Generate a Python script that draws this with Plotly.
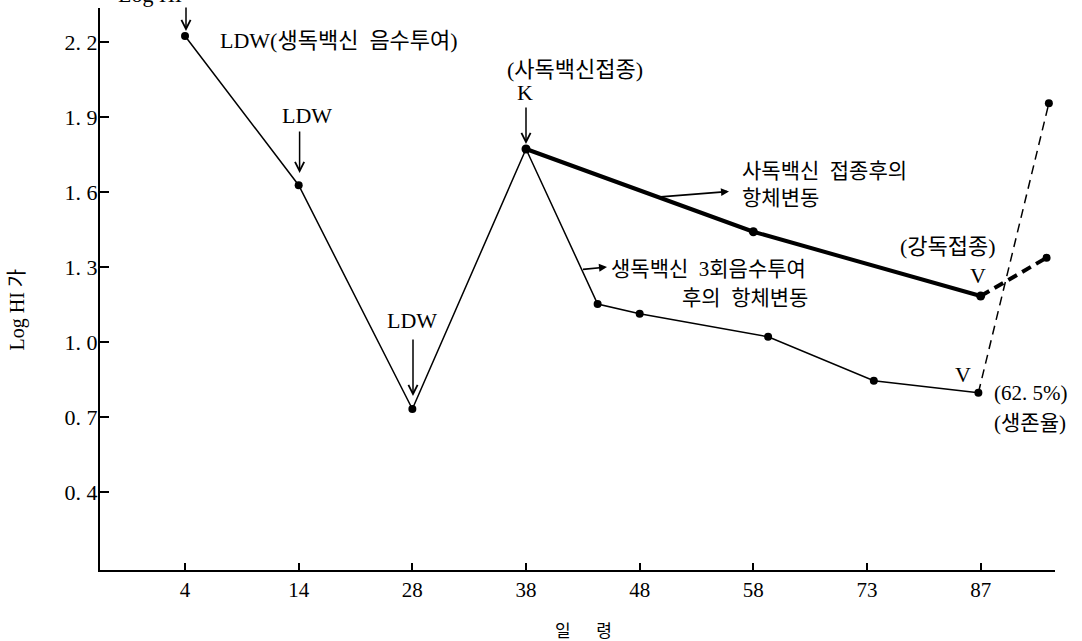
import plotly.graph_objects as go

# ---------------- data ----------------
day_labels = ["4", "14", "28", "38", "48", "58", "73", "87"]   # evenly spaced age (days) ticks
day_pos = [0, 1, 2, 3, 4, 5, 6, 7]

y_tick_vals = [0.4, 0.7, 1.0, 1.3, 1.6, 1.9, 2.2]
y_tick_text = ["0. 4", "0. 7", "1. 0", "1. 3", "1. 6", "1. 9", "2. 2"]

# live vaccine (drinking water) series
live_x = [0, 1, 2, 3, 3.63, 4.0, 5.13, 6.06, 6.98]
live_y = [2.225, 1.628, 0.733, 1.773, 1.153, 1.114, 1.022, 0.846, 0.798]

# killed vaccine series (thick)
killed_x = [3, 5, 7.0]
killed_y = [1.773, 1.442, 1.185]

# after virulent challenge (dashed)
live_ch_x = [6.98, 7.60]
live_ch_y = [0.798, 1.956]
killed_ch_x = [7.0, 7.58]
killed_ch_y = [1.185, 1.338]

# ---------------- layout geometry ----------------
W, H = 1082, 641
L, R, T, B = 100, 27, 8, 71
X_RANGE = [-0.748, 7.654]
Y_RANGE = [0.089, 2.337]
PW, PH = W - L - R, H - T - B

SERIF = "Liberation Serif, 'Noto Sans CJK KR', serif"


def P(px, py):
    """pixel position -> paper coordinates"""
    return (px - L) / PW, (H - B - py) / PH


fig = go.Figure()

fig.add_trace(go.Scatter(x=live_x, y=live_y, mode="lines+markers",
                         line=dict(color="black", width=1.5),
                         marker=dict(color="black", size=8),
                         showlegend=False, cliponaxis=False))
fig.add_trace(go.Scatter(x=killed_x, y=killed_y, mode="lines+markers",
                         line=dict(color="black", width=4),
                         marker=dict(color="black", size=9),
                         showlegend=False, cliponaxis=False))
fig.add_trace(go.Scatter(x=live_ch_x, y=live_ch_y, mode="lines",
                         line=dict(color="black", width=1.5, dash="9px,6px"),
                         showlegend=False))
fig.add_trace(go.Scatter(x=killed_ch_x, y=killed_ch_y, mode="lines",
                         line=dict(color="black", width=4, dash="10px,6px"),
                         showlegend=False))
fig.add_trace(go.Scatter(x=[live_ch_x[-1], killed_ch_x[-1]],
                         y=[live_ch_y[-1], killed_ch_y[-1]], mode="markers",
                         marker=dict(color="black", size=8),
                         showlegend=False, cliponaxis=False))

annotations = []


def text(px, py, s, size=22, xanchor="center", align="left"):
    x, y = P(px, py)
    annotations.append(dict(x=x, y=y, xref="paper", yref="paper", text=s,
                            showarrow=False, xanchor=xanchor, yanchor="middle", align=align,
                            font=dict(family=SERIF, size=size, color="black")))


def arrow(hx, hy, tx, ty, head=5, size=1.2, width=1.5):
    x, y = P(hx, hy)
    annotations.append(dict(x=x, y=y, xref="paper", yref="paper", text="",
                            showarrow=True, ax=tx - hx, ay=ty - hy,
                            axref="pixel", ayref="pixel",
                            arrowhead=head, arrowsize=size, arrowwidth=width,
                            arrowcolor="black", standoff=0, startstandoff=0))


# texts
x0, y0 = P(150, 9)
annotations.append(dict(x=x0, y=y0, xref="paper", yref="paper", text="Log HI",
                        showarrow=False, xanchor="center", yanchor="bottom",
                        font=dict(family=SERIF, size=22, color="black")))
text(218, 41, "LDW(생독백신\u00a0\u00a0음수투여)", xanchor="left")
text(306.5, 115, "LDW")
text(411.5, 320, "LDW")
text(575, 69, "(사독백신접종)")
text(525, 92.5, "K")
text(740, 184.5, "사독백신\u00a0\u00a0접종후의<br>항체변동", size=21, xanchor="left")
text(948, 246.7, "(강독접종)")
text(978, 275, "V")
text(609, 268.5, "생독백신\u00a0\u00a03회음수투여", size=21, xanchor="left")
text(680, 298, "후의\u00a0\u00a0항체변동", size=21, xanchor="left")
text(962.6, 374, "V")
text(992, 393, "(62. 5%)", size=21, xanchor="left")
text(992, 423, "(생존율)", size=21, xanchor="left")
text(583, 631, "일\u00a0\u00a0\u00a0\u00a0\u00a0\u00a0령", size=17)

# rotated y title
xt, yt = P(17.5, 310)
annotations.append(dict(x=xt, y=yt, xref="paper", yref="paper", text="Log HI 가",
                        showarrow=False, textangle=-90, xanchor="center", yanchor="middle",
                        font=dict(family=SERIF, size=20, color="black")))

# arrows
arrow(186, 31, 186, 6)
arrow(299.6, 173, 299.6, 130)
arrow(413, 396, 413, 338)
arrow(526, 144, 526, 106)
arrow(729, 191.5, 659, 197, head=2, size=1, width=1.6)
arrow(607, 267, 581.5, 269.5, head=2, size=1, width=1.6)

fig.update_layout(
    width=W, height=H,
    margin=dict(l=L, r=R, t=T, b=B, pad=0),
    paper_bgcolor="white", plot_bgcolor="white",
    showlegend=False,
    annotations=annotations,
    xaxis=dict(range=X_RANGE, tickvals=day_pos, ticktext=day_labels, automargin=False,
               showgrid=False, zeroline=False, showline=True, linecolor="black",
               linewidth=2, ticks="inside", ticklen=7, tickwidth=1.5, tickcolor="black",
               tickfont=dict(family=SERIF, size=21, color="black")),
    yaxis=dict(range=Y_RANGE, tickvals=y_tick_vals, ticktext=y_tick_text, automargin=False,
               showgrid=False, zeroline=False, showline=True, linecolor="black",
               linewidth=2, ticks="inside", ticklen=9, tickwidth=1.5, tickcolor="black",
               ticklabelstandoff=-4,
               tickfont=dict(family=SERIF, size=22, color="black")),
)

fig.write_html("out.html", config={"displayModeBar": False},
               post_script="document.body.style.margin='0';document.body.style.overflow='hidden';")
